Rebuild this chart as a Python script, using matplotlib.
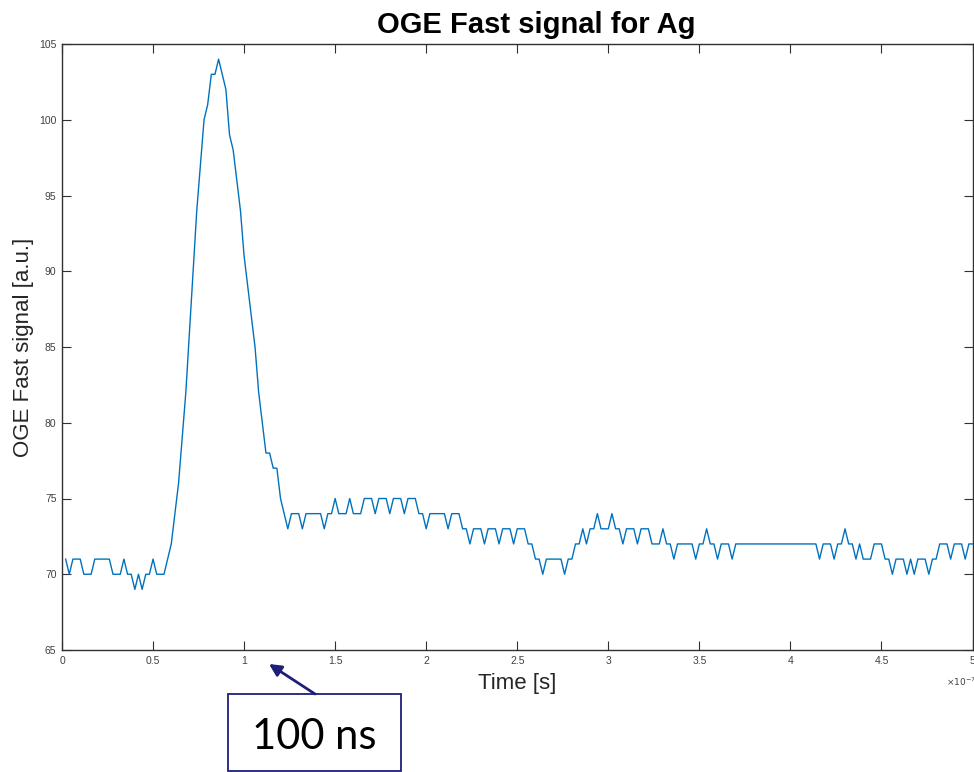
import matplotlib
matplotlib.use("Agg")
import matplotlib.pyplot as plt
import numpy as np
from matplotlib.patches import Rectangle

# OGE fast signal, one sample every 2 ns
sample_ns = 2
signal = [
    71, 70, 71, 71, 71, 70, 70, 70, 71, 71,
    71, 71, 71, 70, 70, 70, 71, 70, 70, 69,
    70, 69, 70, 70, 71, 70, 70, 70, 71, 72,
    74, 76, 79, 82, 86, 90, 94, 97, 100, 101,
    103, 103, 104, 103, 102, 99, 98, 96, 94, 91,
    89, 87, 85, 82, 80, 78, 78, 77, 77, 75,
    74, 73, 74, 74, 74, 73, 74, 74, 74, 74,
    74, 73, 74, 74, 75, 74, 74, 74, 75, 74,
    74, 74, 75, 75, 75, 74, 75, 75, 75, 74,
    75, 75, 75, 74, 75, 75, 75, 74, 74, 73,
    74, 74, 74, 74, 74, 73, 74, 74, 74, 73,
    73, 72, 73, 73, 73, 72, 73, 73, 73, 72,
    73, 73, 73, 72, 73, 73, 73, 72, 72, 71,
    71, 70, 71, 71, 71, 71, 71, 70, 71, 71,
    72, 72, 73, 72, 73, 73, 74, 73, 73, 73,
    74, 73, 73, 72, 73, 73, 73, 72, 73, 73,
    73, 72, 72, 72, 73, 72, 72, 71, 72, 72,
    72, 72, 72, 71, 72, 72, 73, 72, 72, 71,
    72, 72, 72, 71, 72, 72, 72, 72, 72, 72,
    72, 72, 72, 72, 72, 72, 72, 72, 72, 72,
    72, 72, 72, 72, 72, 72, 72, 71, 72, 72,
    72, 71, 72, 72, 73, 72, 72, 71, 72, 71,
    71, 71, 72, 72, 72, 71, 71, 70, 71, 71,
    71, 70, 71, 70, 71, 71, 71, 70, 71, 71,
    72, 72, 72, 71, 72, 72, 72, 71, 72, 72,
]
time_s = np.arange(1, len(signal) + 1) * sample_ns * 1e-9

xticks = [0, 0.5e-7, 1e-7, 1.5e-7, 2e-7, 2.5e-7, 3e-7, 3.5e-7, 4e-7, 4.5e-7, 5e-7]
xticklabels = ["0", "0.5", "1", "1.5", "2", "2.5", "3", "3.5", "4", "4.5", "5"]
yticks = [65, 70, 75, 80, 85, 90, 95, 100, 105]

plt.rcParams['font.family'] = ['Liberation Sans', 'DejaVu Sans']

W, H = 974, 772
fig = plt.figure(figsize=(W / 100, H / 100), dpi=100)
ax = fig.add_axes([62 / W, 1 - 650 / H, (972.5 - 62) / W, (650 - 44) / H])

ax.plot(time_s, signal, color='#0072BD', lw=1.0)

ax.set_xlim(0, 5e-7)
ax.set_ylim(65, 105)
ax.set_xticks(xticks)
ax.set_xticklabels(xticklabels)
ax.set_yticks(yticks)
ax.set_yticklabels([str(v) for v in yticks])
ax.tick_params(direction='in', length=6.5, width=0.8, top=True, right=True,
               labelsize=7.5, color='#303030', labelcolor='#404040', pad=4)
for sp in ax.spines.values():
    sp.set_color('#303030')
    sp.set_linewidth(1.0)

ax.set_xlabel('Time [s]', fontsize=16, color='#262626', labelpad=5)
ax.set_ylabel('OGE Fast signal [a.u.]', fontsize=16, color='#262626', labelpad=4)
ax.set_title('OGE Fast signal for Ag', fontsize=21, fontweight='bold',
             x=(536 - 62) / (972.5 - 62), pad=8)

fig.text(946 / W, 1 - 682 / H, r'$\times10^{-7}$', fontsize=6.5, color='#404040',
         ha='left', va='center')

# "100 ns" callout
box = Rectangle((228 / W, 1 - 771 / H), (401 - 228) / W, (771 - 694) / H,
                transform=fig.transFigure, fill=False, edgecolor='#1F1F7A', lw=1.3)
fig.add_artist(box)
fig.text(314 / W, 1 - 737 / H, '100 ns', fontsize=30, family=['Lato', 'DejaVu Sans'],
         ha='center', va='center', color='black')
fig.add_artist(plt.Annotation('', xy=(269 / W, 1 - 664 / H), xytext=(315 / W, 1 - 694 / H),
                              xycoords='figure fraction', textcoords='figure fraction',
                              arrowprops=dict(arrowstyle='-|>', color='#1F1F7A', lw=2,
                                              mutation_scale=18, shrinkA=0, shrinkB=0)))

fig.savefig('out.png', dpi=100)
